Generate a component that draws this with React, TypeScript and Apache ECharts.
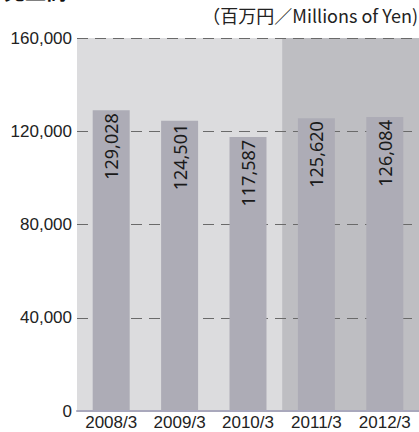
import React, { useEffect, useRef } from "react";
import * as echarts from "echarts";

const categories = ["2008/3", "2009/3", "2010/3", "2011/3", "2012/3"];
const salesValues = [129028, 124501, 117587, 125620, 126084];
const shadedFrom = 3; // index of first shaded category band
const shadedTo = 5;
const unitLabel = "（百万円／Millions of Yen)";

export default function App() {
  const ref = useRef<HTMLDivElement>(null);
  useEffect(() => {
    const chart = echarts.init(ref.current!, null, { renderer: "svg" });
    chart.setOption({
      animation: false,
      grid: {
        left: 77,
        right: 0,
        top: 38,
        bottom: 21,
        show: true,
        backgroundColor: "#dcdcde",
        borderWidth: 0,
      },
      graphic: [
        {
          type: "text",
          left: 4,
          top: -21,
          style: { text: "売上高", font: "bold 21px 'Noto Sans CJK JP'", fill: "#111" },
        },
        {
          type: "text",
          left: 120,
          top: -21,
          style: { text: "Net Sales", font: "bold 21px 'Noto Sans'", fill: "#bbb" },
        },
        {
          type: "text",
          right: 1,
          top: 6,
          style: { text: unitLabel, font: "18px 'Noto Sans CJK JP'", fill: "#222" },
        },
      ],
      xAxis: [
        {
          type: "category",
          data: categories,
          axisLine: { show: true, lineStyle: { color: "#a9a8bc", width: 2 } },
          axisTick: { show: false },
          axisLabel: {
            color: "#222",
            fontSize: 17,
            fontFamily: "Liberation Sans",
            margin: 3,
          },
          z: 3,
        },
        { type: "value", min: 0, max: categories.length, show: false },
      ],
      yAxis: {
        type: "value",
        min: 0,
        max: 160000,
        interval: 40000,
        axisLine: { show: false },
        axisTick: { show: false },
        axisLabel: {
          color: "#222",
          fontSize: 17,
          fontFamily: "Liberation Sans",
          margin: 5,
          formatter: (v: number) => (v === 0 ? "0" : v.toLocaleString("en-US")),
        },
        splitLine: {
          show: true,
          lineStyle: { color: "#6a6a6a", width: 1, type: [11, 7] },
        },
        z: 1.5,
      },
      series: [
        {
          type: "scatter",
          xAxisIndex: 1,
          data: [[0, 0]],
          symbolSize: 0,
          silent: true,
          z: 0,
          markArea: {
            silent: true,
            z: 0,
            itemStyle: { color: "#bebec2" },
            data: [[{ xAxis: shadedFrom, yAxis: 0 }, { xAxis: shadedTo, yAxis: 160000 }]],
          },
        },
        {
          type: "bar",
          data: salesValues,
          barWidth: 37,
          itemStyle: { color: "#adacb6" },
          z: 2,
          label: {
            show: true,
            position: "insideTop",
            rotate: 90,
            align: "right",
            verticalAlign: "middle",
            distance: 3,
            color: "#1a1a1a",
            fontSize: 18,
            fontFamily: "Noto Sans",
            formatter: (p: any) => p.value.toLocaleString("en-US"),
          },
        },
      ],
    });
    return () => chart.dispose();
  }, []);
  return <div ref={ref} style={{ width: 419, height: 432, position: "absolute", left: 0, top: 0 }} />;
}
